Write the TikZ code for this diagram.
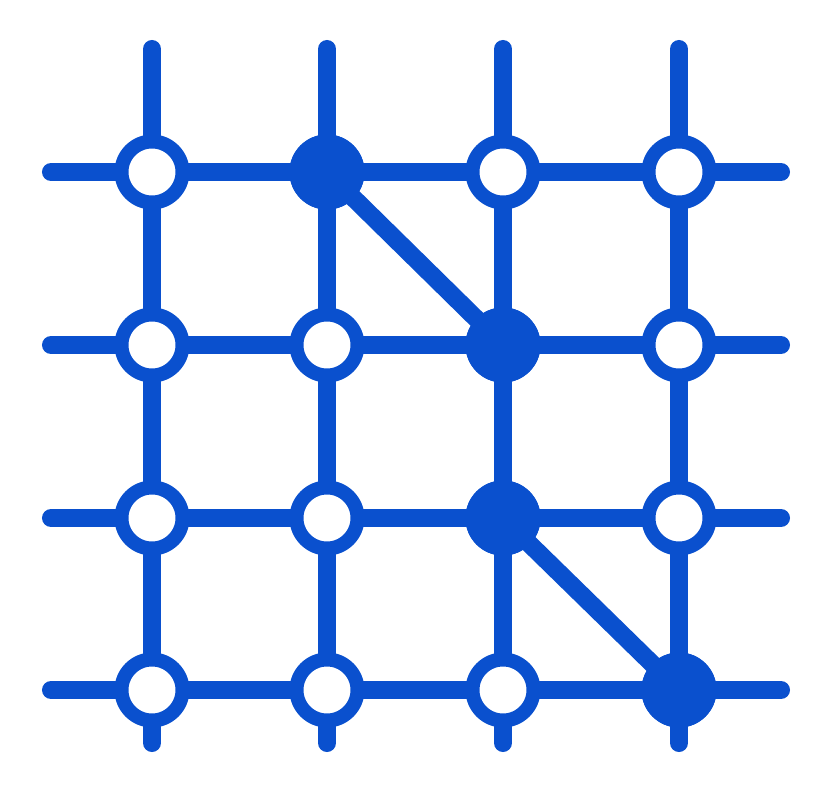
\documentclass[tikz,border=0pt]{standalone}
\usetikzlibrary{positioning}
\definecolor{gridblue}{RGB}{10,80,206}
\tikzset{
  wire/.style={draw=gridblue, line width=0.18cm, line cap=round},
  opennode/.style={circle, draw=gridblue, line width=0.14cm, fill=white, minimum size=0.61cm, inner sep=0pt},
  fullnode/.style={circle, fill=gridblue, minimum size=0.75cm, inner sep=0pt}
}
\begin{document}
\begin{tikzpicture}[x=0.01cm, y=-0.01cm]
\useasboundingbox (0,0) rectangle (830,800);
% free ends of the grid lines
\foreach \c/\x in {1/152, 2/327, 3/503, 4/679} {
  \coordinate (top\c) at (\x, 49);
  \coordinate (bot\c) at (\x, 743);
}
\foreach \r/\y in {1/172, 2/345, 3/518, 4/690} {
  \coordinate (left\r) at (51, \y);
  \coordinate (right\r) at (781, \y);
}
% grid lines
\foreach \c in {1,...,4} \draw[wire] (top\c) -- (bot\c);
\foreach \r in {1,...,4} \draw[wire] (left\r) -- (right\r);
% diagonals
\coordinate (d12) at (327, 172);
\coordinate (d23) at (503, 345);
\coordinate (d33) at (503, 518);
\coordinate (d44) at (679, 690);
\draw[wire] (d12) -- (d23);
\draw[wire] (d33) -- (d44);
% nodes
\foreach \r/\y in {1/172, 2/345, 3/518, 4/690} {
  \foreach \c/\x in {1/152, 2/327, 3/503, 4/679} {
    \node[opennode] (n\r\c) at (\x, \y) {};
  }
}
\node[fullnode] (f12) at (d12) {};
\node[fullnode] (f23) at (d23) {};
\node[fullnode] (f33) at (d33) {};
\node[fullnode] (f44) at (d44) {};
\end{tikzpicture}
\end{document}
